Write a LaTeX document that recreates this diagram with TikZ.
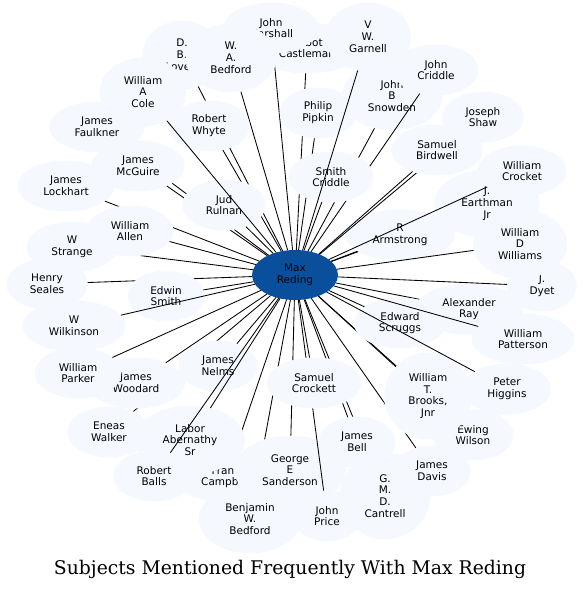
\documentclass[tikz,border=0pt]{standalone}
\usepackage{fontspec}
\setmainfont{DejaVu Sans}
\newfontfamily\titlefont{DejaVu Serif}
\usetikzlibrary{shapes.geometric}
\definecolor{nodefill}{RGB}{245,249,255}
\definecolor{centerfill}{RGB}{10,79,156}
\tikzset{
  pnode/.style={ellipse, fill=nodefill, inner xsep=11.5pt, inner ysep=0pt, outer sep=0pt,
    align=center, font=\fontsize{10.5}{11.8}\selectfont, minimum width=70pt},
  two/.style={pnode, minimum height=51pt},
  three/.style={pnode, minimum height=69pt},
  four/.style={pnode, minimum height=87pt},
  cnode/.style={ellipse, fill=centerfill, text=black, inner sep=0pt, outer sep=0pt,
    minimum width=86pt, minimum height=50pt, align=center, font=\fontsize{10.5}{11.8}\selectfont},
  link/.style={draw=black, line width=0.85pt},
  titletext/.style={font=\titlefont\fontsize{18.8}{22}\selectfont, anchor=base}
}
\begin{document}
\begin{tikzpicture}[x=1pt,y=-1pt]
\useasboundingbox (0,0) rectangle (583,589);
\node[cnode] (c) at (295,275) {Max\\Reding};
\node[two] (castleman) at (307,48) {Talbot\\Castleman}; \draw[link] (c) -- (castleman);
\node[two] (marshall) at (271,28) {John\\Marshall}; \draw[link] (c) -- (marshall);
\node[three] (lovett) at (182,55) {D.\\B.\\Lovett}; \draw[link] (c) -- (lovett);
\node[three] (wabedford) at (231,58) {W.\\A.\\Bedford}; \draw[link] (c) -- (wabedford);
\node[two] (faulkner) at (97,127) {James\\Faulkner}; \draw[link] (c) -- (faulkner);
\node[two] (mcguire) at (138,166) {James\\McGuire}; \draw[link] (c) -- (mcguire);
\node[two] (whyte) at (209,126) {Robert\\Whyte}; \draw[link] (c) -- (whyte);
\node[two] (rulnan) at (224,205) {Jud\\Rulnan}; \draw[link] (c) -- (rulnan);
\node[three] (cole) at (143,92) {William\\A\\Cole}; \draw[link] (c) -- (cole);
\node[two] (lockhart) at (66,186) {James\\Lockhart}; \draw[link] (c) -- (lockhart);
\node[two] (strange) at (72,247) {W\\Strange}; \draw[link] (c) -- (strange);
\node[two] (allen) at (130,231) {William\\Allen}; \draw[link] (c) -- (allen);
\node[two] (seales) at (47,284) {Henry\\Seales}; \draw[link] (c) -- (seales);
\node[two] (esmith) at (166,296) {Edwin\\Smith}; \draw[link] (c) -- (esmith);
\node[two] (wilkinson) at (74,326) {W\\Wilkinson}; \draw[link] (c) -- (wilkinson);
\node[two] (walker) at (109,432) {Eneas\\Walker}; \draw[link] (c) -- (walker);
\node[two] (woodard) at (136,383) {James\\Woodard}; \draw[link] (c) -- (woodard);
\node[two] (parker) at (78,373) {William\\Parker}; \draw[link] (c) -- (parker);
\node[two] (nelms) at (218,366) {James\\Nelms}; \draw[link] (c) -- (nelms);
\node[two] (campbell) at (226,477) {Frank\\Campbell}; \draw[link] (c) -- (campbell);
\node[three] (abernathy) at (190,440) {Labor\\Abernathy\\Sr}; \draw[link] (c) -- (abernathy);
\node[two] (balls) at (154,476) {Robert\\Balls}; \draw[link] (c) -- (balls);
\node[three] (bwbedford) at (250,519) {Benjamin\\W.\\Bedford}; \draw[link] (c) -- (bwbedford);
\node[three] (sanderson) at (290,470) {George\\E\\Sanderson}; \draw[link] (c) -- (sanderson);
\node[two] (price) at (327,516) {John\\Price}; \draw[link] (c) -- (price);
\node[four] (cantrell) at (385,496) {G.\\M.\\D.\\Cantrell}; \draw[link] (c) -- (cantrell);
\node[two] (bell) at (357,442) {James\\Bell}; \draw[link] (c) -- (bell);
\node[two] (scrockett) at (314,383) {Samuel\\Crockett}; \draw[link] (c) -- (scrockett);
\node[two] (davis) at (432,471) {James\\Davis}; \draw[link] (c) -- (davis);
\node[two] (ewing) at (473,435) {Ewing\\Wilson}; \draw[link] (c) -- (ewing);
\node[four] (brooks) at (428,396) {William\\T.\\Brooks,\\Jnr}; \draw[link] (c) -- (brooks);
\node[two] (ray) at (469,309) {Alexander\\Ray}; \draw[link] (c) -- (ray);
\node[two] (scruggs) at (400,323) {Edward\\Scruggs}; \draw[link] (c) -- (scruggs);
\node[two] (higgins) at (507,389) {Peter\\Higgins}; \draw[link] (c) -- (higgins);
\node[two] (patterson) at (523,339) {William\\Patterson}; \draw[link] (c) -- (patterson);
\node[two] (dyet) at (542,286) {J.\\Dyet}; \draw[link] (c) -- (dyet);
\node[three] (earthman) at (487,204) {J.\\Earthman\\Jr}; \draw[link] (c) -- (earthman);
\node[two] (armstrong) at (400,235) {R\\Armstrong}; \draw[link] (c) -- (armstrong);
\node[three] (williams) at (520,244) {William\\D\\Williams}; \draw[link] (c) -- (williams);
\node[two] (wcrocket) at (522,171) {William\\Crocket}; \draw[link] (c) -- (wcrocket);
\node[two] (shaw) at (483,117) {Joseph\\Shaw}; \draw[link] (c) -- (shaw);
\node[two] (birdwell) at (437,150) {Samuel\\Birdwell}; \draw[link] (c) -- (birdwell);
\node[three] (snowden) at (392,96) {John\\B\\Snowden}; \draw[link] (c) -- (snowden);
\node[two] (jcriddle) at (436,70) {John\\Criddle}; \draw[link] (c) -- (jcriddle);
\node[two] (pipkin) at (318,113) {Philip\\Pipkin}; \draw[link] (c) -- (pipkin);
\node[two] (scriddle) at (331,177) {Smith\\Criddle}; \draw[link] (c) -- (scriddle);
\node[three] (garnell) at (368,37) {V\\W.\\Garnell}; \draw[link] (c) -- (garnell);
\node[titletext] (title) at (290,574.3) {Subjects Mentioned Frequently With Max Reding};
\end{tikzpicture}
\end{document}
